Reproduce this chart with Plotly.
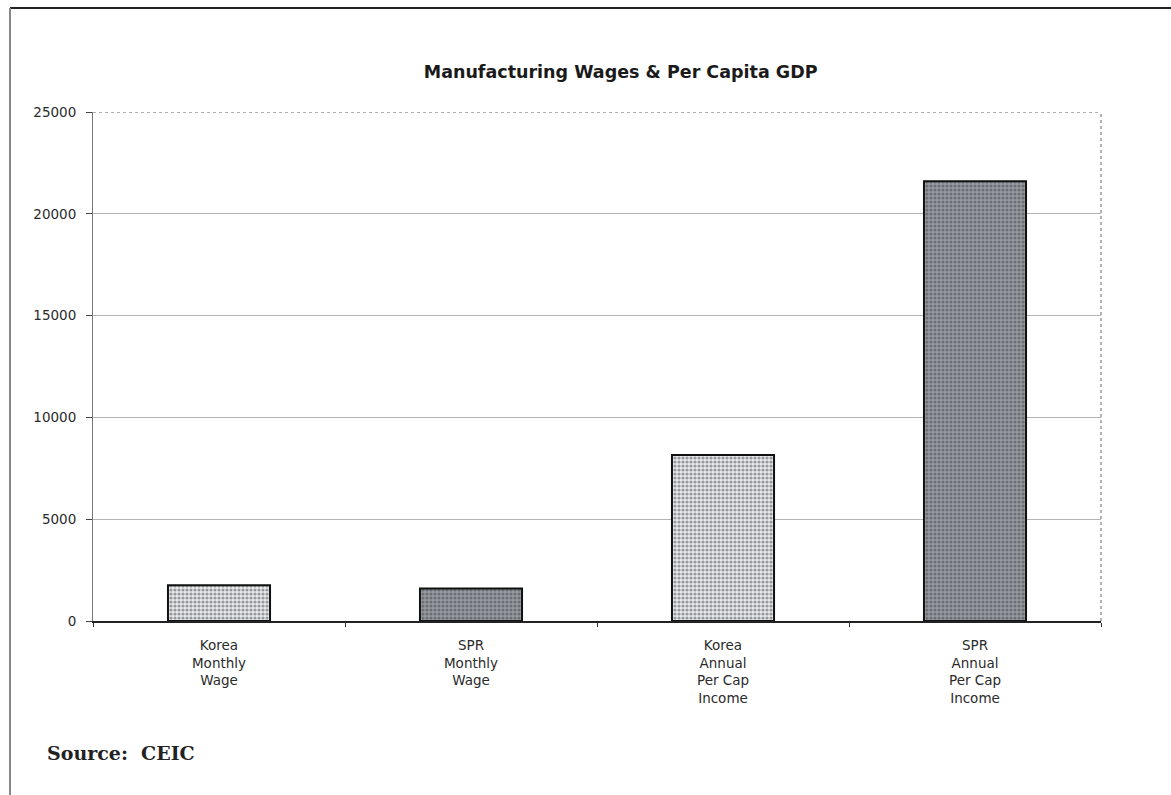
import plotly.graph_objects as go

categories = ["Korea<br>Monthly<br>Wage", "SPR<br>Monthly<br>Wage",
              "Korea<br>Annual<br>Per Cap<br>Income", "SPR<br>Annual<br>Per Cap<br>Income"]
values = [1750, 1600, 8150, 21600]
fill_bg = ["#e8eaee", "#969aa2", "#e8eaee", "#969aa2"]
fill_fg = ["#c8cbd1", "#454950", "#c8cbd1", "#454950"]
y_ticks = [0, 5000, 10000, 15000, 20000, 25000]
title_text = "Manufacturing Wages & Per Capita GDP"
source_text = "Source:  CEIC"

fig = go.Figure()
fig.add_trace(go.Bar(
    x=categories, y=values,
    marker=dict(
        color=fill_bg,
        line=dict(color="#111111", width=2),
        pattern=dict(shape=".", fgcolor=fill_fg, bgcolor=fill_bg, size=4, solidity=0.5),
    ),
    width=0.405,
    hoverinfo="skip",
))

fig.update_layout(
    width=1171, height=795,
    margin=dict(l=93, r=70, t=112, b=174),
    paper_bgcolor="white", plot_bgcolor="white",
    showlegend=False,
    font=dict(family="DejaVu Sans, sans-serif", size=13, color="#222222"),
    title=dict(text="<b>" + title_text + "</b>", x=0.53, xanchor="center", y=0.909, yanchor="middle",
               font=dict(family="DejaVu Sans, sans-serif", size=17.5, color="#1a1a1a")),
)

fig.update_xaxes(
    type="category", showgrid=False,
    showline=True, linecolor="#222222", linewidth=1.5,
    ticks="outside", tickson="boundaries", ticklen=4, tickcolor="#333333",
    tickfont=dict(family="DejaVu Sans, sans-serif", size=13.5, color="#2a2a2a"),
    ticklabelstandoff=11,
    range=[-0.5, 3.5],
)
fig.update_yaxes(
    range=[0, 25000], tickvals=y_ticks, tickformat="d",
    showgrid=True, gridcolor="#b5b5b5", gridwidth=1,
    showline=True, linecolor="#777777", linewidth=1,
    ticks="outside", ticklen=6, tickcolor="#444444",
    tickfont=dict(family="DejaVu Sans, sans-serif", size=13.5, color="#2a2a2a"),
    ticklabelstandoff=7,
    zeroline=False,
)

# dotted top and right border of the plot area
fig.add_shape(type="line", xref="paper", yref="y", x0=0, x1=1, y0=25000, y1=25000,
              line=dict(color="white", width=3), layer="above")
fig.add_shape(type="line", xref="paper", yref="y", x0=0, x1=1, y0=25000, y1=25000,
              line=dict(color="#666666", width=1, dash="dot"), layer="above")
fig.add_shape(type="line", xref="paper", yref="y", x0=1, x1=1, y0=0, y1=25000,
              line=dict(color="#666666", width=1, dash="dot"), layer="above")

# outer frame (top and left edges)
fig.add_shape(type="line", xref="paper", yref="paper",
              x0=(10 - 93) / 1008, x1=(1171 - 93) / 1008,
              y0=(795 - 8 - 174) / 509, y1=(795 - 8 - 174) / 509,
              line=dict(color="#222222", width=2), layer="above")
fig.add_shape(type="line", xref="paper", yref="paper",
              x0=(10 - 93) / 1008, x1=(10 - 93) / 1008,
              y0=(795 - 795 - 174) / 509, y1=(795 - 8 - 174) / 509,
              line=dict(color="#888888", width=2), layer="above")

fig.add_annotation(text="<b>" + source_text + "</b>", xref="paper", yref="paper",
                   x=(45 - 93) / 1008, y=(795 - 753 - 174) / 509,
                   xanchor="left", yanchor="middle", showarrow=False,
                   font=dict(family="DejaVu Serif, serif", size=19, color="#222222"))

fig.write_html("out.html")
